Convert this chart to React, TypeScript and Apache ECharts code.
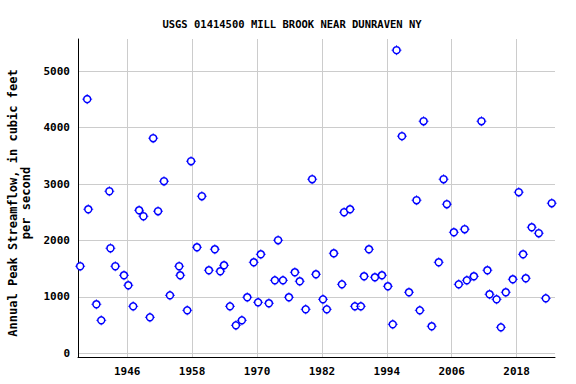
import React, { useEffect, useRef } from "react";
import * as echarts from "echarts";

const years: number[] = [
  1937.3, 1938.6, 1938.8, 1940.3, 1941.2, 1942.7, 1942.9, 1943.8, 1945.4, 1946.2,
  1947.1, 1948.2, 1949.0, 1950.2, 1950.8, 1951.7, 1952.8, 1953.9, 1955.6, 1955.8,
  1957.1, 1957.8, 1958.9, 1959.8, 1961.1, 1962.2, 1963.2, 1963.9, 1965.0, 1966.1,
  1967.2, 1968.2, 1969.4, 1970.2, 1970.7, 1972.2, 1973.3, 1973.9, 1974.8, 1975.9,
  1977.0, 1977.9, 1979.0, 1980.2, 1980.9, 1982.2, 1982.9, 1984.2, 1985.7, 1986.1,
  1987.2, 1988.1, 1989.2, 1989.8, 1990.7, 1991.8, 1993.1, 1994.2, 1995.1, 1995.8,
  1996.8, 1998.1, 1999.5, 2000.1, 2000.8, 2002.3, 2003.6, 2004.5, 2005.1, 2006.4,
  2007.3, 2008.4, 2008.8, 2010.1, 2011.5, 2012.6, 2013.0, 2014.3, 2015.1, 2016.0,
  2017.3, 2018.4, 2019.2, 2019.7, 2020.8, 2022.1, 2023.4, 2024.5,
];
const peaks: number[] = [
  1543, 4504, 2553, 869, 585, 2872, 1862, 1543, 1383, 1206,
  833, 2535, 2429, 638, 3812, 2518, 3050, 1028, 1543, 1383,
  762, 3404, 1879, 2784, 1472, 1844, 1454, 1560, 833, 496,
  585, 993, 1613, 904, 1755, 887, 1294, 2004, 1294, 993,
  1436, 1277, 780, 3085, 1401, 957, 780, 1773, 1223, 2500,
  2553, 833, 833, 1365, 1844, 1348, 1383, 1188, 514, 5372,
  3848, 1082, 2713, 762, 4113, 479, 1613, 3085, 2642, 2145,
  1223, 2199, 1294, 1365, 4113, 1472, 1046, 957, 461, 1082,
  1312, 2855, 1755, 1330, 2234, 2128, 975, 2660,
];
const xTicks: number[] = [1946, 1958, 1970, 1982, 1994, 2006, 2018];
const yTicks: number[] = [0, 1000, 2000, 3000, 4000, 5000];

const TITLE = "USGS 01414500 MILL BROOK NEAR DUNRAVEN NY";
const Y_NAME = "Annual Peak Streamflow, in cubic feet\nper second";
const FONT = "'DejaVu Sans Mono', 'Liberation Mono', monospace";

const TICKS_MARK = "path://M5,0L5,1.6M5,8.4L5,10M0,5L1.6,5M8.4,5L10,5";

export default function App() {
  const ref = useRef<HTMLDivElement>(null);
  useEffect(() => {
    if (!ref.current) return;
    const chart = echarts.init(ref.current, null, { renderer: "svg" });
    const pts = years.map((y, i) => [y, peaks[i]]);
    chart.setOption({
      animation: false,
      backgroundColor: "#ffffff",
      title: {
        text: TITLE,
        left: 287,
        top: 13,
        textAlign: "center",
        textStyle: { fontFamily: FONT, fontSize: 10.5, fontWeight: "bold", color: "#000" },
      },
      graphic: [
        {
          type: "text",
          x: 19,
          y: 203,
          rotation: Math.PI / 2,
          style: {
            text: Y_NAME,
            fontFamily: FONT,
            fontSize: 12,
            fontWeight: "bold",
            fill: "#000",
            textAlign: "center",
            textVerticalAlign: "middle",
            lineHeight: 13,
          },
        },
      ],
      grid: { left: 78, right: 21, top: 39, bottom: 27, containLabel: false },
      xAxis: {
        type: "value",
        min: 1936.9,
        max: 2025.1,
        axisLine: { show: true, onZero: false, lineStyle: { color: "#000", width: 1 } },
        axisTick: { show: false, customValues: xTicks },
        axisLabel: {
          customValues: xTicks,
          formatter: (v: number) => String(Math.round(v)),
          fontFamily: FONT,
          fontSize: 11,
          fontWeight: "bold",
          color: "#000",
          margin: 9,
        },
        splitLine: { show: true, lineStyle: { color: "#cccccc", width: 1 } },
      },
      yAxis: {
        type: "value",
        min: -65,
        max: 5570,
        axisLine: { show: true, onZero: false, lineStyle: { color: "#000", width: 1 } },
        axisTick: { show: false, customValues: yTicks },
        axisLabel: {
          customValues: yTicks,
          formatter: (v: number) => String(Math.round(v)),
          fontFamily: FONT,
          fontSize: 11,
          fontWeight: "bold",
          color: "#000",
          margin: 8,
        },
        splitLine: { show: true, lineStyle: { color: "#cccccc", width: 1 } },
      },
      series: [
        {
          type: "scatter",
          data: pts,
          symbol: "circle",
          symbolSize: 7,
          itemStyle: { color: "#ffffff", borderColor: "#0000ff", borderWidth: 1.5, opacity: 1 },
          clip: false,
        },
        {
          type: "scatter",
          data: pts,
          symbol: TICKS_MARK,
          symbolSize: 10,
          itemStyle: { color: "rgba(0,0,0,0)", borderColor: "#0000ff", borderWidth: 1 },
          clip: false,
        },
      ],
    });
    return () => chart.dispose();
  }, []);
  return (
    <div
      ref={ref}
      style={{ position: "fixed", left: 0, top: 0, width: 576, height: 384 }}
    />
  );
}
